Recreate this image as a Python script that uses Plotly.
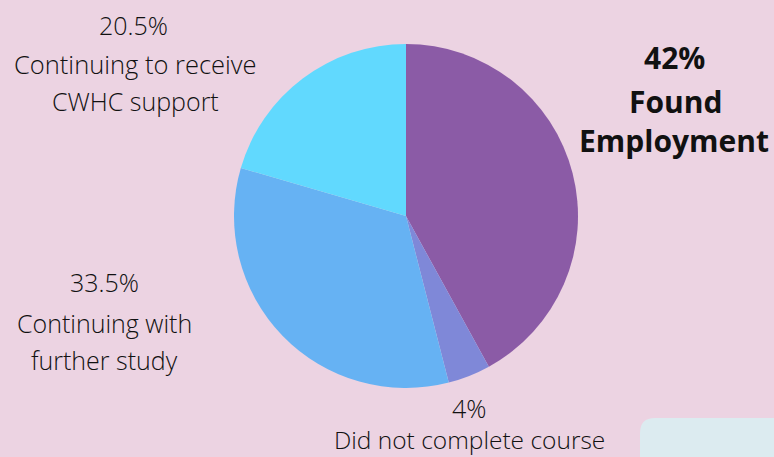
import plotly.graph_objects as go

# Outcome shares (percent), listed clockwise from 12 o'clock
categories = ["Found Employment", "Did not complete course",
              "Continuing with further study", "Continuing to receive CWHC support"]
shares = [42, 4, 33.5, 20.5]
slice_colors = ["#8b5ba6", "#7f88d8", "#66b2f3", "#61d9fe"]

W, H = 774, 457
BG = "#ecd3e2"

fig = go.Figure(go.Pie(
    labels=categories,
    values=shares,
    sort=False,
    direction="clockwise",
    rotation=0,
    marker=dict(colors=slice_colors, line=dict(width=0)),
    textinfo="none",
    hoverinfo="label+percent",
    showlegend=False,
    domain=dict(x=[234 / W, 578 / W], y=[(H - 388) / H, (H - 44) / H]),
))


def px_note(text, x, y, size, bold=False):
    fig.add_annotation(
        text=text,
        x=x / W, y=1 - y / H, xref="paper", yref="paper",
        xanchor="center", yanchor="middle", showarrow=False,
        font=dict(family="Open Sans", size=size, color="#111111",
                  weight=700 if bold else 300),
    )


# Labels for each slice
px_note("20.5%", 133, 25, 25)
px_note("Continuing to receive", 135, 64, 25.5)
px_note("CWHC support", 135, 101, 25)

px_note("33.5%", 104, 282, 25)
px_note("Continuing with", 104, 323, 25)
px_note("further study", 104, 360, 25)

px_note("4%", 469, 408, 25)
px_note("Did not complete course", 469, 439, 24.5)

px_note("42%", 674, 58, 30, bold=True)
px_note("Found", 675, 101, 30, bold=True)
px_note("Employment", 674, 140, 30, bold=True)

# Pale rounded panel peeking in at the lower right
fig.add_shape(
    type="path", xref="paper", yref="paper",
    xsizemode="pixel", ysizemode="pixel", xanchor=0, yanchor=0,
    path="M 640,-10 L 640,24 Q 640,39 655,39 L 790,39 L 790,-10 Z",
    fillcolor="#dcebf0", line=dict(width=0), layer="below",
)

fig.update_layout(
    width=W, height=H,
    margin=dict(l=0, r=0, t=0, b=0),
    paper_bgcolor=BG, plot_bgcolor=BG,
)

fig.write_html("out.html")
